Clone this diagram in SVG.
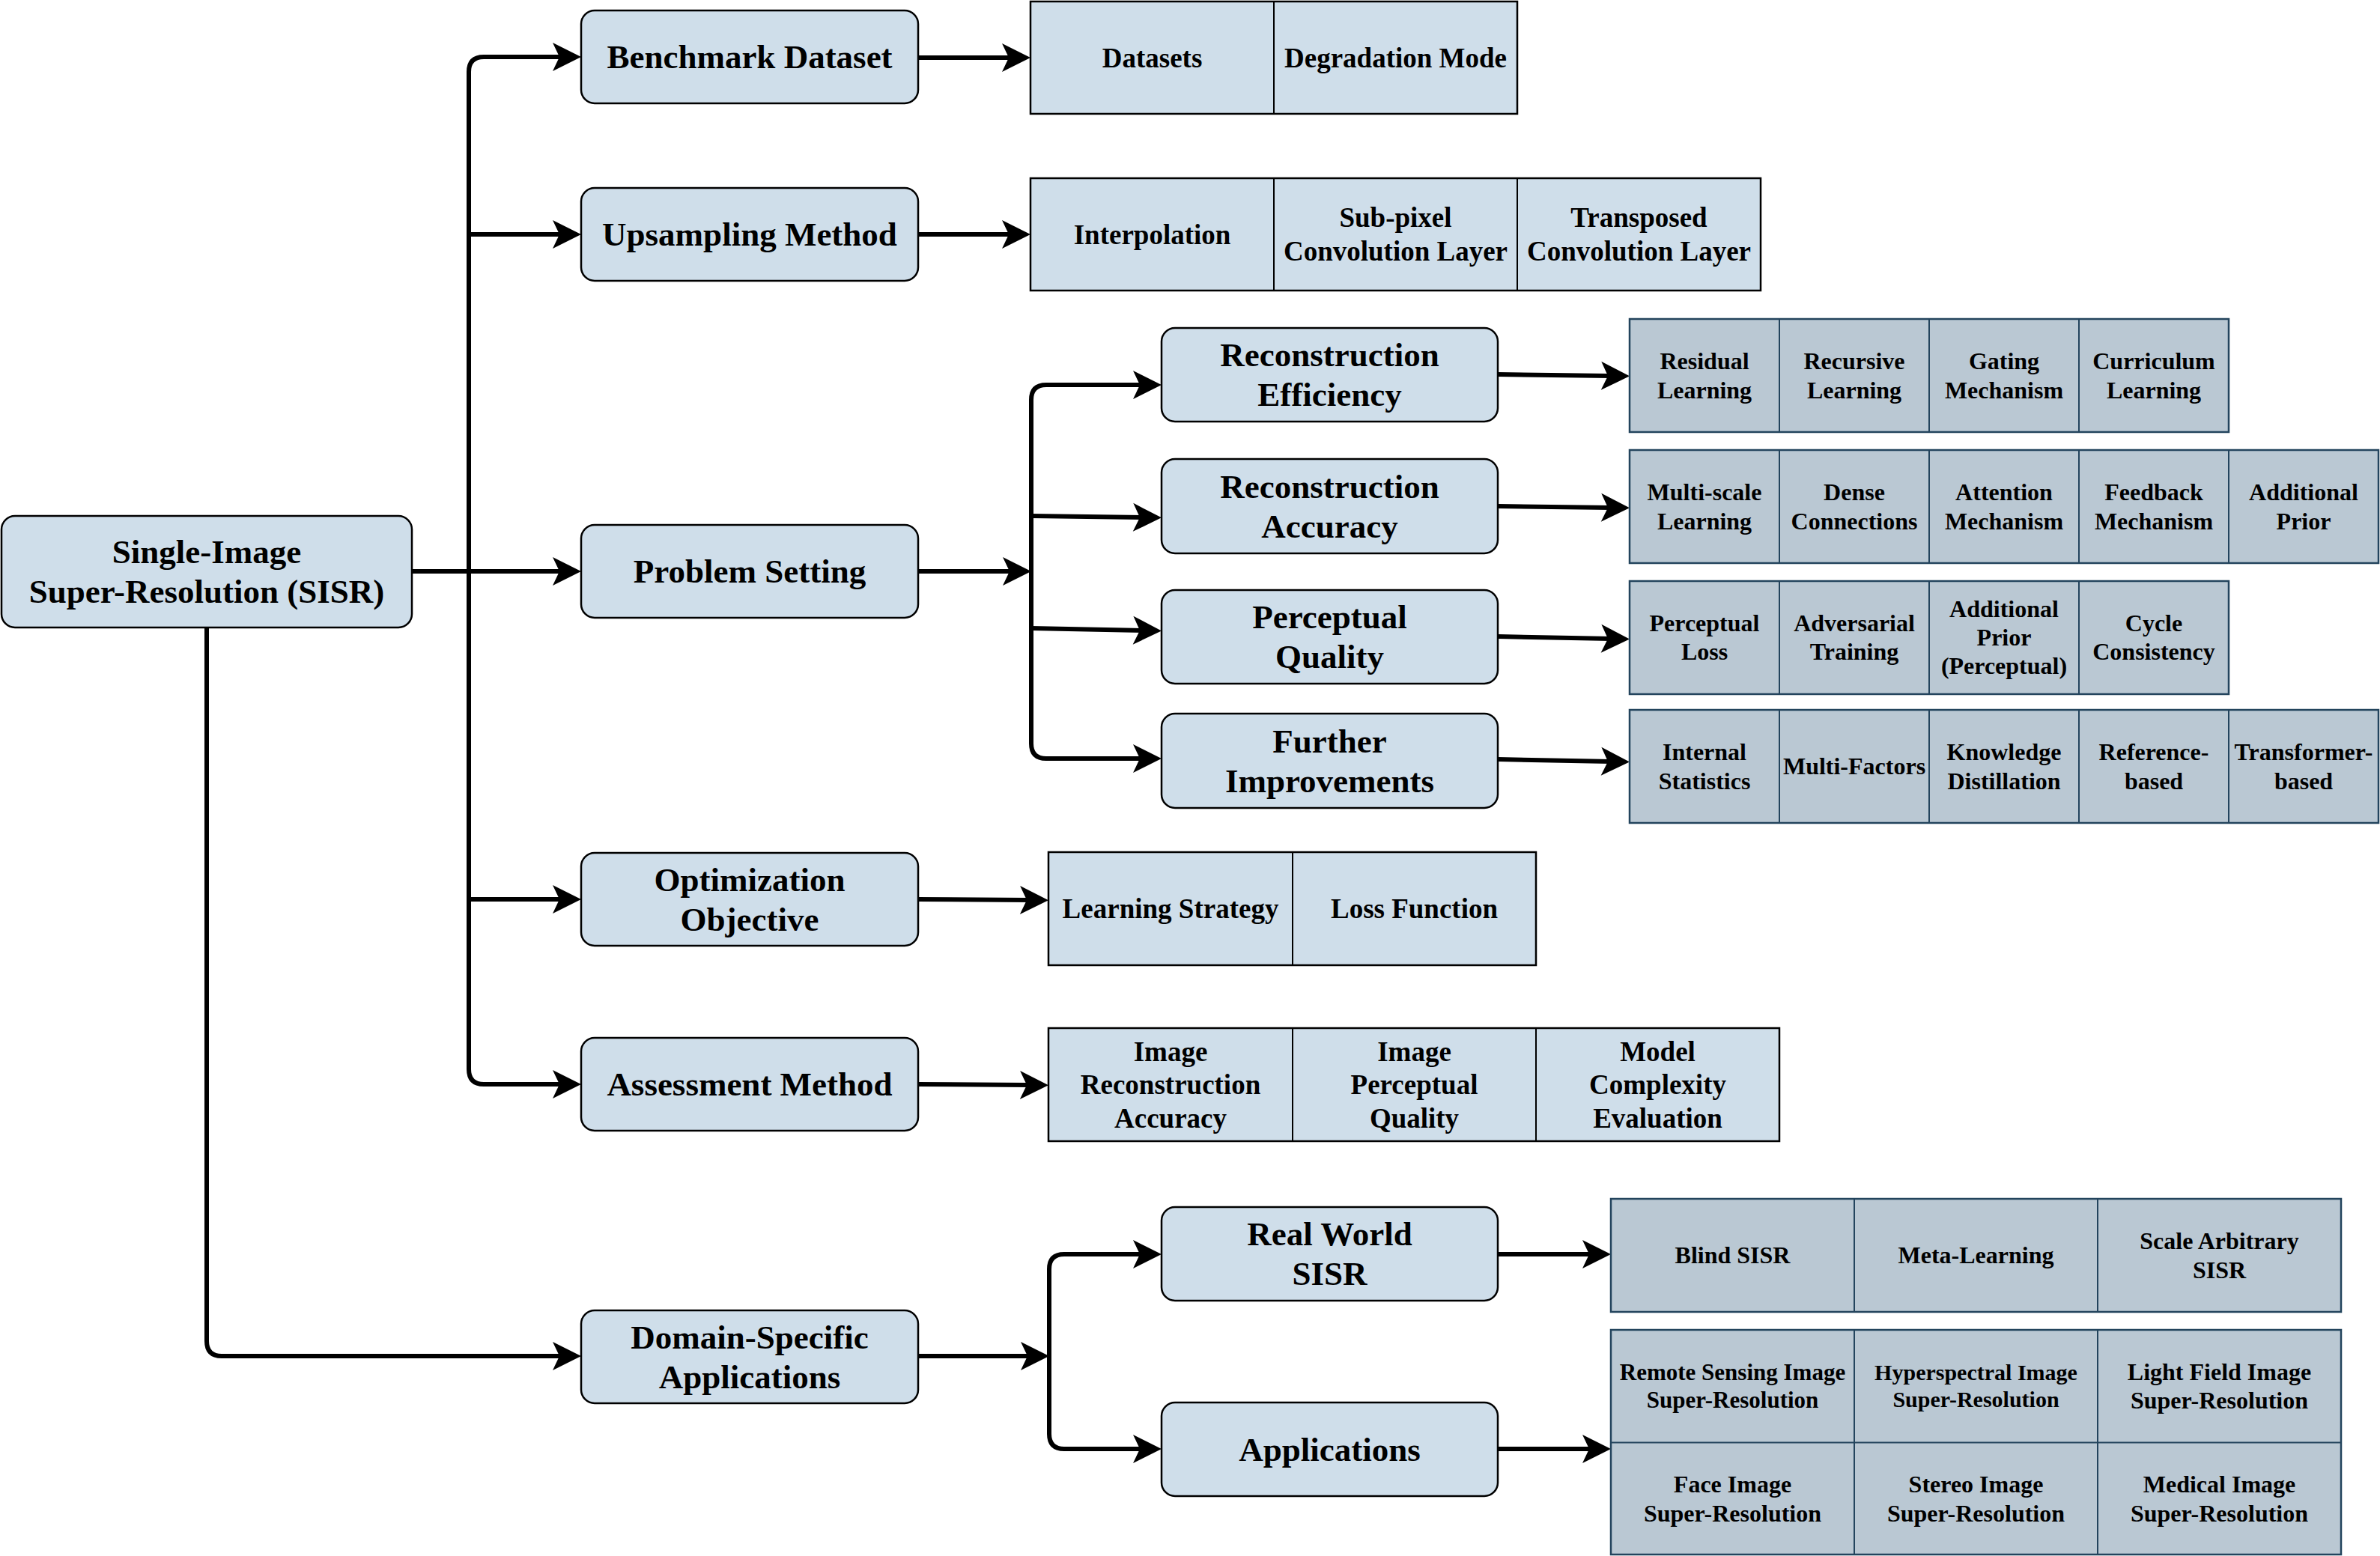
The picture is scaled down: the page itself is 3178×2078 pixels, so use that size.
<svg xmlns="http://www.w3.org/2000/svg" width="3178" height="2078" viewBox="0 0 3178 2078">
<style>
.node rect{fill:#cfdeea;stroke:#000;stroke-width:2.5}
.t1 .bg{fill:#cfdeea;stroke:#000;stroke-width:2.5}
.t1 line{stroke:#000;stroke-width:2}
.t3 .bg{fill:#bac8d3;stroke:#23445d;stroke-width:2.5}
.t3 line{stroke:#23445d;stroke-width:2}
text{font-family:"Liberation Serif","Times New Roman",serif;font-weight:bold;text-anchor:middle;fill:#000}
.f45{font-size:45px}
.f37{font-size:37px}
.f32{font-size:32px}
.f31{font-size:31px}
.f30{font-size:30px}
.edge{fill:none;stroke:#000;stroke-width:6;marker-end:url(#ah)}
</style>
<defs>
<marker id="ah" markerUnits="userSpaceOnUse" markerWidth="40" markerHeight="40" viewBox="-40 -20 40 40" refX="-25" refY="0" orient="auto">
<path d="M0,0 L-38,-19 L-29,0 L-38,19 Z" fill="#000"/>
</marker>
</defs>
<rect width="3178" height="2078" fill="#fff"/>

<g id="connectors">
<path class="edge" d="M550,763 H626 V96 Q626,76 646,76 H751"/>
<path class="edge" d="M550,763 H626 V313 H751"/>
<path class="edge" d="M550,763 H751"/>
<path class="edge" d="M550,763 H626 V1201 H751"/>
<path class="edge" d="M550,763 H626 V1428 Q626,1448 646,1448 H751"/>
<path class="edge" d="M276,838 V1791 Q276,1811 296,1811 H751"/>
<path class="edge" d="M1226,77 H1351"/>
<path class="edge" d="M1226,313 H1351"/>
<path class="edge" d="M1226,763 H1352"/>
<path class="edge" d="M1377,763 V534 Q1377,514 1397,514 H1526"/>
<path class="edge" d="M1377,689 L1526,691"/>
<path class="edge" d="M1377,839 L1526,842"/>
<path class="edge" d="M1377,763 V993 Q1377,1013 1397,1013 H1526"/>
<path class="edge" d="M1226,1201 L1375,1202"/>
<path class="edge" d="M1226,1448 L1375,1449"/>
<path class="edge" d="M1226,1811 H1376"/>
<path class="edge" d="M1401,1811 V1695 Q1401,1675 1421,1675 H1526"/>
<path class="edge" d="M1401,1811 V1915 Q1401,1935 1421,1935 H1526"/>
<path class="edge" d="M2000,500 L2151,502"/>
<path class="edge" d="M2000,676 L2151,678"/>
<path class="edge" d="M2000,850 L2151,853"/>
<path class="edge" d="M2000,1014 L2151,1017"/>
<path class="edge" d="M2000,1675 H2126"/>
<path class="edge" d="M2000,1935 H2126"/>
</g>

<g id="sisr" class="node">
<rect x="2" y="689" width="548" height="149" rx="18"/>
<text class="f45" x="276" y="752">Single-Image</text>
<text class="f45" x="276" y="805">Super-Resolution (SISR)</text>
</g>

<g id="benchmark" class="node">
<rect x="776" y="14" width="450" height="124" rx="18"/>
<text class="f45" x="1001" y="91">Benchmark Dataset</text>
</g>
<g id="upsampling" class="node">
<rect x="776" y="251" width="450" height="124" rx="18"/>
<text class="f45" x="1001" y="328">Upsampling Method</text>
</g>
<g id="problem" class="node">
<rect x="776" y="701" width="450" height="124" rx="18"/>
<text class="f45" x="1001" y="778">Problem Setting</text>
</g>
<g id="optimization" class="node">
<rect x="776" y="1139" width="450" height="124" rx="18"/>
<text class="f45" x="1001" y="1190">Optimization</text>
<text class="f45" x="1001" y="1243">Objective</text>
</g>
<g id="assessment" class="node">
<rect x="776" y="1386" width="450" height="124" rx="18"/>
<text class="f45" x="1001" y="1463">Assessment Method</text>
</g>
<g id="domain" class="node">
<rect x="776" y="1750" width="450" height="124" rx="18"/>
<text class="f45" x="1001" y="1801">Domain-Specific</text>
<text class="f45" x="1001" y="1854">Applications</text>
</g>

<g id="efficiency" class="node">
<rect x="1551" y="438" width="449" height="125" rx="18"/>
<text class="f45" x="1775.5" y="489">Reconstruction</text>
<text class="f45" x="1775.5" y="542">Efficiency</text>
</g>
<g id="accuracy" class="node">
<rect x="1551" y="613" width="449" height="126" rx="18"/>
<text class="f45" x="1775.5" y="665">Reconstruction</text>
<text class="f45" x="1775.5" y="718">Accuracy</text>
</g>
<g id="perceptual" class="node">
<rect x="1551" y="788" width="449" height="125" rx="18"/>
<text class="f45" x="1775.5" y="839">Perceptual</text>
<text class="f45" x="1775.5" y="892">Quality</text>
</g>
<g id="further" class="node">
<rect x="1551" y="953" width="449" height="126" rx="18"/>
<text class="f45" x="1775.5" y="1005">Further</text>
<text class="f45" x="1775.5" y="1058">Improvements</text>
</g>
<g id="realworld" class="node">
<rect x="1551" y="1612" width="449" height="125" rx="18"/>
<text class="f45" x="1775.5" y="1663">Real World</text>
<text class="f45" x="1775.5" y="1716">SISR</text>
</g>
<g id="applications" class="node">
<rect x="1551" y="1873" width="449" height="125" rx="18"/>
<text class="f45" x="1775.5" y="1951">Applications</text>
</g>

<g id="benchmark-table" class="t1">
<rect class="bg" x="1376" y="2" width="650" height="150"/>
<line x1="1701" y1="2" x2="1701" y2="152"/>
<text class="f37" x="1538.5" y="89.6">Datasets</text>
<text class="f37" x="1863.5" y="89.6">Degradation Mode</text>
</g>
<g id="upsampling-table" class="t1">
<rect class="bg" x="1376" y="238" width="975" height="150"/>
<line x1="1701" y1="238" x2="1701" y2="388"/>
<line x1="2026" y1="238" x2="2026" y2="388"/>
<text class="f37" x="1538.5" y="325.6">Interpolation</text>
<text class="f37" x="1863.5" y="303.4">Sub-pixel</text>
<text class="f37" x="1863.5" y="347.8">Convolution Layer</text>
<text class="f37" x="2188.5" y="303.4">Transposed</text>
<text class="f37" x="2188.5" y="347.8">Convolution Layer</text>
</g>
<g id="optimization-table" class="t1">
<rect class="bg" x="1400" y="1138" width="651" height="151"/>
<line x1="1726" y1="1138" x2="1726" y2="1289"/>
<text class="f37" x="1563" y="1226">Learning Strategy</text>
<text class="f37" x="1888.5" y="1226">Loss Function</text>
</g>
<g id="assessment-table" class="t1">
<rect class="bg" x="1400" y="1373" width="976" height="151"/>
<line x1="1726" y1="1373" x2="1726" y2="1524"/>
<line x1="2051" y1="1373" x2="2051" y2="1524"/>
<text class="f37" x="1563" y="1416.7">Image</text>
<text class="f37" x="1563" y="1461.1">Reconstruction</text>
<text class="f37" x="1563" y="1505.5">Accuracy</text>
<text class="f37" x="1888.5" y="1416.7">Image</text>
<text class="f37" x="1888.5" y="1461.1">Perceptual</text>
<text class="f37" x="1888.5" y="1505.5">Quality</text>
<text class="f37" x="2213.5" y="1416.7">Model</text>
<text class="f37" x="2213.5" y="1461.1">Complexity</text>
<text class="f37" x="2213.5" y="1505.5">Evaluation</text>
</g>

<g id="efficiency-table" class="t3">
<rect class="bg" x="2176" y="426" width="800" height="151"/>
<line x1="2376" y1="426" x2="2376" y2="577"/>
<line x1="2576" y1="426" x2="2576" y2="577"/>
<line x1="2776" y1="426" x2="2776" y2="577"/>
<text class="f32" x="2276" y="493.2">Residual</text>
<text class="f32" x="2276" y="531.6">Learning</text>
<text class="f32" x="2476" y="493.2">Recursive</text>
<text class="f32" x="2476" y="531.6">Learning</text>
<text class="f32" x="2676" y="493.2">Gating</text>
<text class="f32" x="2676" y="531.6">Mechanism</text>
<text class="f32" x="2876" y="493.2">Curriculum</text>
<text class="f32" x="2876" y="531.6">Learning</text>
</g>
<g id="accuracy-table" class="t3">
<rect class="bg" x="2176" y="601" width="1000" height="151"/>
<line x1="2376" y1="601" x2="2376" y2="752"/>
<line x1="2576" y1="601" x2="2576" y2="752"/>
<line x1="2776" y1="601" x2="2776" y2="752"/>
<line x1="2976" y1="601" x2="2976" y2="752"/>
<text class="f32" x="2276" y="668.2">Multi-scale</text>
<text class="f32" x="2276" y="706.6">Learning</text>
<text class="f32" x="2476" y="668.2">Dense</text>
<text class="f32" x="2476" y="706.6">Connections</text>
<text class="f32" x="2676" y="668.2">Attention</text>
<text class="f32" x="2676" y="706.6">Mechanism</text>
<text class="f32" x="2876" y="668.2">Feedback</text>
<text class="f32" x="2876" y="706.6">Mechanism</text>
<text class="f32" x="3076" y="668.2">Additional</text>
<text class="f32" x="3076" y="706.6">Prior</text>
</g>
<g id="perceptual-table" class="t3">
<rect class="bg" x="2176" y="776" width="800" height="151"/>
<line x1="2376" y1="776" x2="2376" y2="927"/>
<line x1="2576" y1="776" x2="2576" y2="927"/>
<line x1="2776" y1="776" x2="2776" y2="927"/>
<text class="f32" x="2276" y="842.7">Perceptual</text>
<text class="f32" x="2276" y="881.1">Loss</text>
<text class="f32" x="2476" y="842.7">Adversarial</text>
<text class="f32" x="2476" y="881.1">Training</text>
<text class="f32" x="2676" y="823.5">Additional</text>
<text class="f32" x="2676" y="861.9">Prior</text>
<text class="f32" x="2676" y="900.3">(Perceptual)</text>
<text class="f32" x="2876" y="842.7">Cycle</text>
<text class="f32" x="2876" y="881.1">Consistency</text>
</g>
<g id="further-table" class="t3">
<rect class="bg" x="2176" y="948" width="1000" height="151"/>
<line x1="2376" y1="948" x2="2376" y2="1099"/>
<line x1="2576" y1="948" x2="2576" y2="1099"/>
<line x1="2776" y1="948" x2="2776" y2="1099"/>
<line x1="2976" y1="948" x2="2976" y2="1099"/>
<text class="f32" x="2276" y="1015.2">Internal</text>
<text class="f32" x="2276" y="1053.6">Statistics</text>
<text class="f32" x="2476" y="1034.4">Multi-Factors</text>
<text class="f32" x="2676" y="1015.2">Knowledge</text>
<text class="f32" x="2676" y="1053.6">Distillation</text>
<text class="f32" x="2876" y="1015.2">Reference-</text>
<text class="f32" x="2876" y="1053.6">based</text>
<text class="f32" x="3076" y="1015.2">Transformer-</text>
<text class="f32" x="3076" y="1053.6">based</text>
</g>
<g id="realworld-table" class="t3">
<rect class="bg" x="2151" y="1601" width="975" height="151"/>
<line x1="2476" y1="1601" x2="2476" y2="1752"/>
<line x1="2801" y1="1601" x2="2801" y2="1752"/>
<text class="f32" x="2313.5" y="1687.4">Blind SISR</text>
<text class="f32" x="2638.5" y="1687.4">Meta-Learning</text>
<text class="f32" x="2963.5" y="1668.2">Scale Arbitrary</text>
<text class="f32" x="2963.5" y="1706.6">SISR</text>
</g>
<g id="applications-table" class="t3">
<rect class="bg" x="2151" y="1776" width="975" height="300"/>
<line x1="2476" y1="1776" x2="2476" y2="2076"/>
<line x1="2801" y1="1776" x2="2801" y2="2076"/>
<line x1="2151" y1="1926.5" x2="3126" y2="1926.5"/>
<text class="f31" x="2313.5" y="1843">Remote Sensing Image</text>
<text class="f31" x="2313.5" y="1880.2">Super-Resolution</text>
<text class="f30" x="2638.5" y="1843.2">Hyperspectral Image</text>
<text class="f30" x="2638.5" y="1879.2">Super-Resolution</text>
<text class="f32" x="2963.5" y="1842.7">Light Field Image</text>
<text class="f32" x="2963.5" y="1881.1">Super-Resolution</text>
<text class="f32" x="2313.5" y="1993.2">Face Image</text>
<text class="f32" x="2313.5" y="2031.6">Super-Resolution</text>
<text class="f32" x="2638.5" y="1993.2">Stereo Image</text>
<text class="f32" x="2638.5" y="2031.6">Super-Resolution</text>
<text class="f32" x="2963.5" y="1993.2">Medical Image</text>
<text class="f32" x="2963.5" y="2031.6">Super-Resolution</text>
</g>
</svg>
